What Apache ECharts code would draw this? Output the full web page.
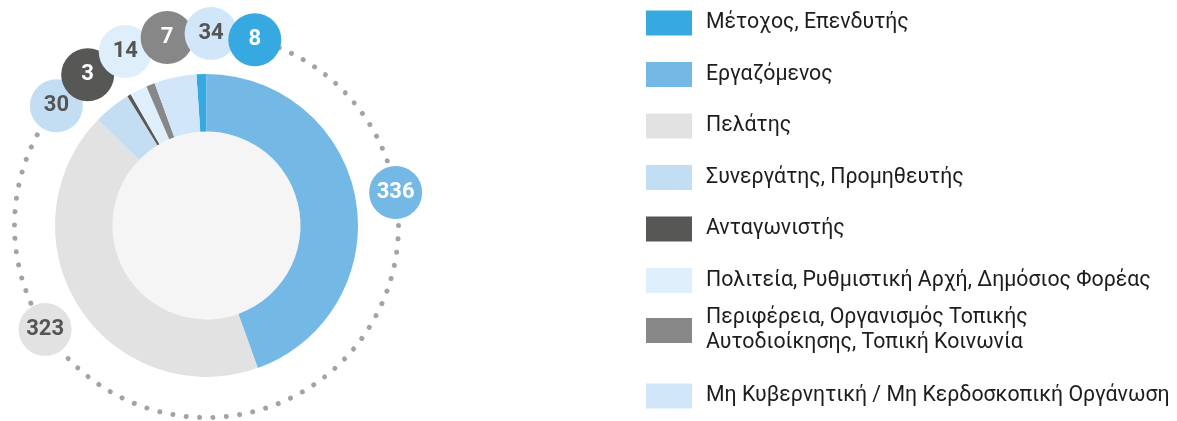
<!DOCTYPE html>
<html>
<head>
<meta charset="utf-8">
<script src="https://cdn.jsdelivr.net/npm/echarts@6/dist/echarts.min.js"></script>
<style>
  html, body { margin: 0; padding: 0; background: #fff; }
  #chart { width: 1177px; height: 421px; }
</style>
</head>
<body>
<div id="chart"></div>
<script>
// data
const categories = [
  'Μέτοχος, Επενδυτής',
  'Εργαζόμενος',
  'Πελάτης',
  'Συνεργάτης, Προμηθευτής',
  'Ανταγωνιστής',
  'Πολιτεία, Ρυθμιστική Αρχή, Δημόσιος Φορέας',
  'Περιφέρεια, Οργανισμός Τοπικής\nΑυτοδιοίκησης, Τοπική Κοινωνία',
  'Μη Κυβερνητική / Μη Κερδοσκοπική Οργάνωση'
]
const values = [8, 336, 323, 30, 3, 14, 7, 34]

// styles
const colors = ['#36a9e1', '#74b8e6', '#e2e2e2', '#c3ddf3', '#575756', '#dfeefb', '#878787', '#d1e6f8']
const bubbleText = ['#fff', '#fff', '#555', '#555', '#fff', '#555', '#fff', '#555']

// layout
const CX = 206.5, CY = 225.5
const R_IN = 94, R_OUT = 151.5
const RING = 192
const BUBBLE = 53
const STEP = 13.2      // spacing of crowded bubbles (deg)
const SHIFT = 3.5      // nudge of the crowded group (deg)

const total = values.reduce((a, b) => a + b, 0)
const offset = values[0] / total * 360

// slice midpoints, clockwise from 12 o'clock, in drawing order starting after first slice
const order = values.map((v, i) => i).slice(1).concat([0])
let acc = 0
const mids = {}
values.forEach((v, i) => {
  const deg = v / total * 360
  mids[i] = acc + deg / 2 - offset
  acc += deg
})
mids[0] += 360

// spread out the small slices' bubbles
const small = order.filter(i => values[i] / total < 0.1)
const mean = small.reduce((s, i) => s + mids[i], 0) / small.length + SHIFT
const angles = Object.assign({}, mids)
small.forEach((i, k) => {
  angles[i] = mean + (k - (small.length - 1) / 2) * STEP
})

const bubbles = order.map(i => ({
  value: [RING, ((angles[i] % 360) + 360) % 360],
  count: values[i],
  itemStyle: { color: colors[i] },
  label: { color: bubbleText[i] }
}))

const legendBase = {
  orient: 'vertical',
  left: 646,
  padding: 0,
  itemWidth: 46,
  itemHeight: 25,
  icon: 'rect',
  selectedMode: false,
  textStyle: {
    fontFamily: 'Roboto',
    fontSize: 21.3,
    color: '#1d1d1b',
    lineHeight: 25,
    padding: [0, 0, 0, 9]
  }
}

const chart = echarts.init(document.getElementById('chart'))
chart.setOption({
  animation: false,
  color: colors,
  legend: [
    Object.assign({}, legendBase, { top: 10.5, itemGap: 26.5, data: categories.slice(0, 6) }),
    Object.assign({}, legendBase, {
      top: 298.5,
      data: [categories[6]],
      textStyle: Object.assign({}, legendBase.textStyle, { padding: [14, 0, 0, 9] })
    }),
    Object.assign({}, legendBase, { top: 383.5, data: [categories[7]] })
  ],
  polar: { center: [CX, CY], radius: RING },
  angleAxis: {
    type: 'value',
    min: 0,
    max: 360,
    startAngle: 90,
    clockwise: true,
    axisLine: { lineStyle: { color: '#a3a3a3', width: 5, type: [0.01, 13.4], cap: 'round' } },
    axisTick: { show: false },
    axisLabel: { show: false },
    splitLine: { show: false },
    splitArea: { show: false }
  },
  radiusAxis: {
    type: 'value',
    min: 0,
    max: RING,
    show: false,
    splitLine: { show: false },
    axisLine: { show: false },
    axisTick: { show: false },
    axisLabel: { show: false }
  },
  series: [
    {
      type: 'pie',
      silent: true,
      center: [CX, CY],
      radius: [0, R_IN],
      label: { show: false },
      labelLine: { show: false },
      itemStyle: { color: '#f5f5f5' },
      data: [{ value: total, name: '' }]
    },
    {
      type: 'pie',
      silent: true,
      center: [CX, CY],
      radius: [R_IN, R_OUT],
      startAngle: 90 + offset,
      clockwise: true,
      label: { show: false },
      labelLine: { show: false },
      data: categories.map((name, i) => ({ name, value: values[i], itemStyle: { color: colors[i] } }))
    },
    {
      type: 'scatter',
      coordinateSystem: 'polar',
      silent: true,
      symbol: 'circle',
      symbolSize: BUBBLE,
      z: 5,
      itemStyle: { opacity: 1 },
      label: {
        show: true,
        position: 'inside',
        fontFamily: 'Roboto',
        fontSize: 22,
        fontWeight: 'bold',
        formatter: p => p.data.count
      },
      data: bubbles
    }
  ]
})
</script>
</body>
</html>
